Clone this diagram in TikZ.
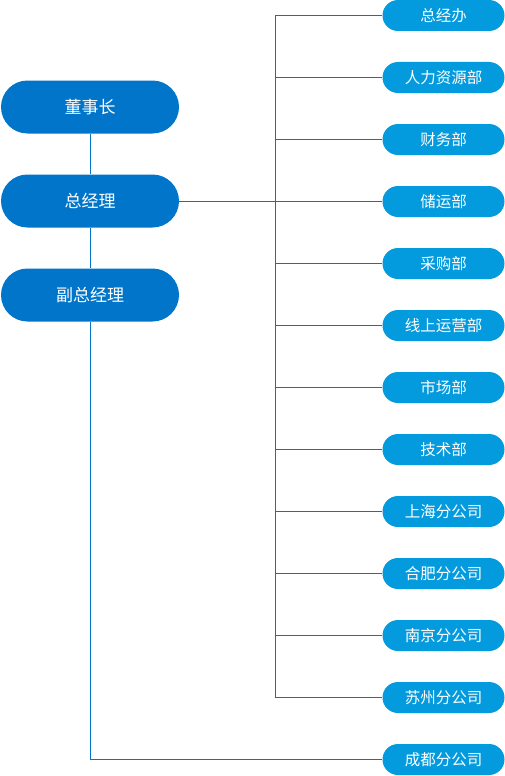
\documentclass[tikz,border=0pt]{standalone}
\usepackage{fontspec}
\setmainfont{Noto Sans CJK SC}
\definecolor{leftblue}{RGB}{0,117,202}
\definecolor{rightblue}{RGB}{4,155,222}
\definecolor{linecol}{RGB}{0,117,202}
\tikzset{
  x=1pt,y=-1pt,
  lbox/.style={draw=none, fill=leftblue, text=white, minimum width=178pt, minimum height=53pt, rounded corners=26.5pt, font=\fontsize{17}{20}\selectfont, inner sep=0pt},
  rbox/.style={draw=none, fill=rightblue, text=white, minimum width=122pt, minimum height=31pt, rounded corners=15.5pt, font=\fontsize{15.5}{18}\selectfont, inner sep=0pt},
  conn/.style={draw=linecol, line width=1pt}
}
\begin{document}
\begin{tikzpicture}
\useasboundingbox (0,0) rectangle (505,776);
\node[lbox] (dsz) at (90,107) {董事长};
\node[lbox] (zjl) at (90,201) {总经理};
\node[lbox] (fzjl) at (90,295) {副总经理};
\foreach \n/\t [count=\i from 0] in {r0/总经办,r1/人力资源部,r2/财务部,r3/储运部,r4/采购部,r5/线上运营部,r6/市场部,r7/技术部,r8/上海分公司,r9/合肥分公司,r10/南京分公司,r11/苏州分公司,r12/成都分公司}{
  \node[rbox] (\n) at (443.5,{15.5+62*\i}) {\t};
}
\coordinate (bus) at (275,201);
\draw[conn] (dsz) -- (zjl);
\draw[conn] (zjl) -- (fzjl);
\draw[conn] (zjl.east) -- (bus);
\draw[conn] (r0.west) -- (r0.west -| bus) -- (r11.west -| bus) -- (r11.west);
\foreach \i in {1,...,10}{
  \draw[conn] (r\i.west) -- (r\i.west -| bus);
}
\draw[conn] (fzjl.south) |- (r12.west);
\end{tikzpicture}
\end{document}
